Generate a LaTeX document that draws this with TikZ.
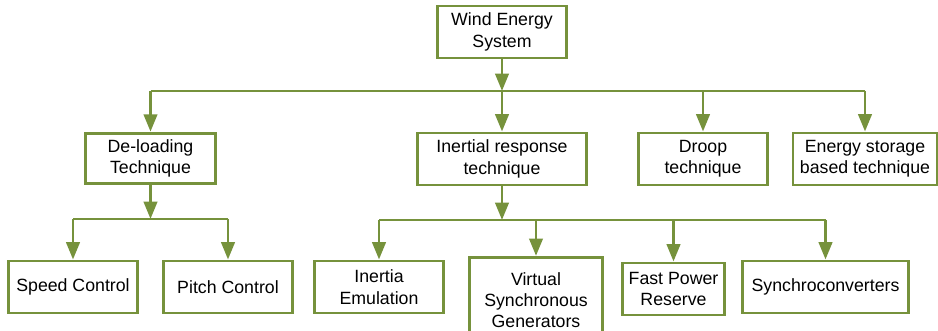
\documentclass[tikz,border=0pt]{standalone}
\usepackage{fontspec}
\setmainfont{Liberation Sans}
\usetikzlibrary{arrows.meta}
\definecolor{olivegreen}{RGB}{118,146,60}

\tikzset{
  box/.style={draw=olivegreen, line width=2.2pt, fill=white, align=center,
    inner sep=0pt, font=\fontsize{13.3}{16}\selectfont},
  link/.style={draw=olivegreen, line width=2.2pt},
  arr/.style={link, -{Triangle[length=13pt,width=10pt]}}
}

\begin{document}
\begin{tikzpicture}[x=0.75pt,y=-0.75pt]
\useasboundingbox (0,0) rectangle (938,331);

% Top box
\node[box, minimum width=97pt, minimum height=39pt] (wes) at (502,32) {Wind Energy\\System};

% Techniques
\node[box, minimum width=97pt, minimum height=38pt] (deload) at (150.5,158.5) {De-loading\\Technique};
\node[box, minimum width=127pt, minimum height=39pt] (inertial) at (502,159) {Inertial response\\technique};
\node[box, minimum width=97pt, minimum height=39pt] (droop) at (703,159) {Droop\\technique};
\node[box, minimum width=108pt, minimum height=39pt] (storage) at (865,159) {Energy storage\\based technique};

% De-loading branches
\node[box, minimum width=97pt, minimum height=39pt] (speed) at (73,287) {Speed Control};
\node[box, minimum width=97pt, minimum height=39pt] (pitch) at (228,287) {Pitch Control};

% Inertial response branches
\node[box, minimum width=97pt, minimum height=39pt] (emul) at (379,287) {Inertia\\Emulation};
\node[box, minimum width=100pt, minimum height=64pt] (vsg) at (536,300) {Virtual\\Synchronous\\Generators};
\node[box, minimum width=76pt, minimum height=39pt] (fpr) at (673.5,289) {Fast Power\\Reserve};
\node[box, minimum width=125pt, minimum height=39pt] (sync) at (825.5,287) {Synchroconverters};

% Bus lines
\coordinate (bus1) at (502,91);
\coordinate (bus2) at (150.5,219);
\coordinate (bus3) at (502,220);

% Level one connectors
\draw[arr] (wes.south) -- (bus1);
\draw[link] (deload.north |- bus1) -- (storage.north |- bus1);
\foreach \n in {deload,inertial,droop,storage}
  \draw[arr] (\n.north |- bus1) -- (\n.north);

% De-loading connectors
\draw[arr] (deload.south) -- (bus2);
\draw[link] (speed.north |- bus2) -- (pitch.north |- bus2);
\foreach \n in {speed,pitch}
  \draw[arr] (\n.north |- bus2) -- (\n.north);

% Inertial response connectors
\draw[arr] (inertial.south) -- (bus3);
\draw[link] (emul.north |- bus3) -- (sync.north |- bus3);
\foreach \n in {emul,vsg,fpr,sync}
  \draw[arr] (\n.north |- bus3) -- (\n.north);
\end{tikzpicture}
\end{document}
